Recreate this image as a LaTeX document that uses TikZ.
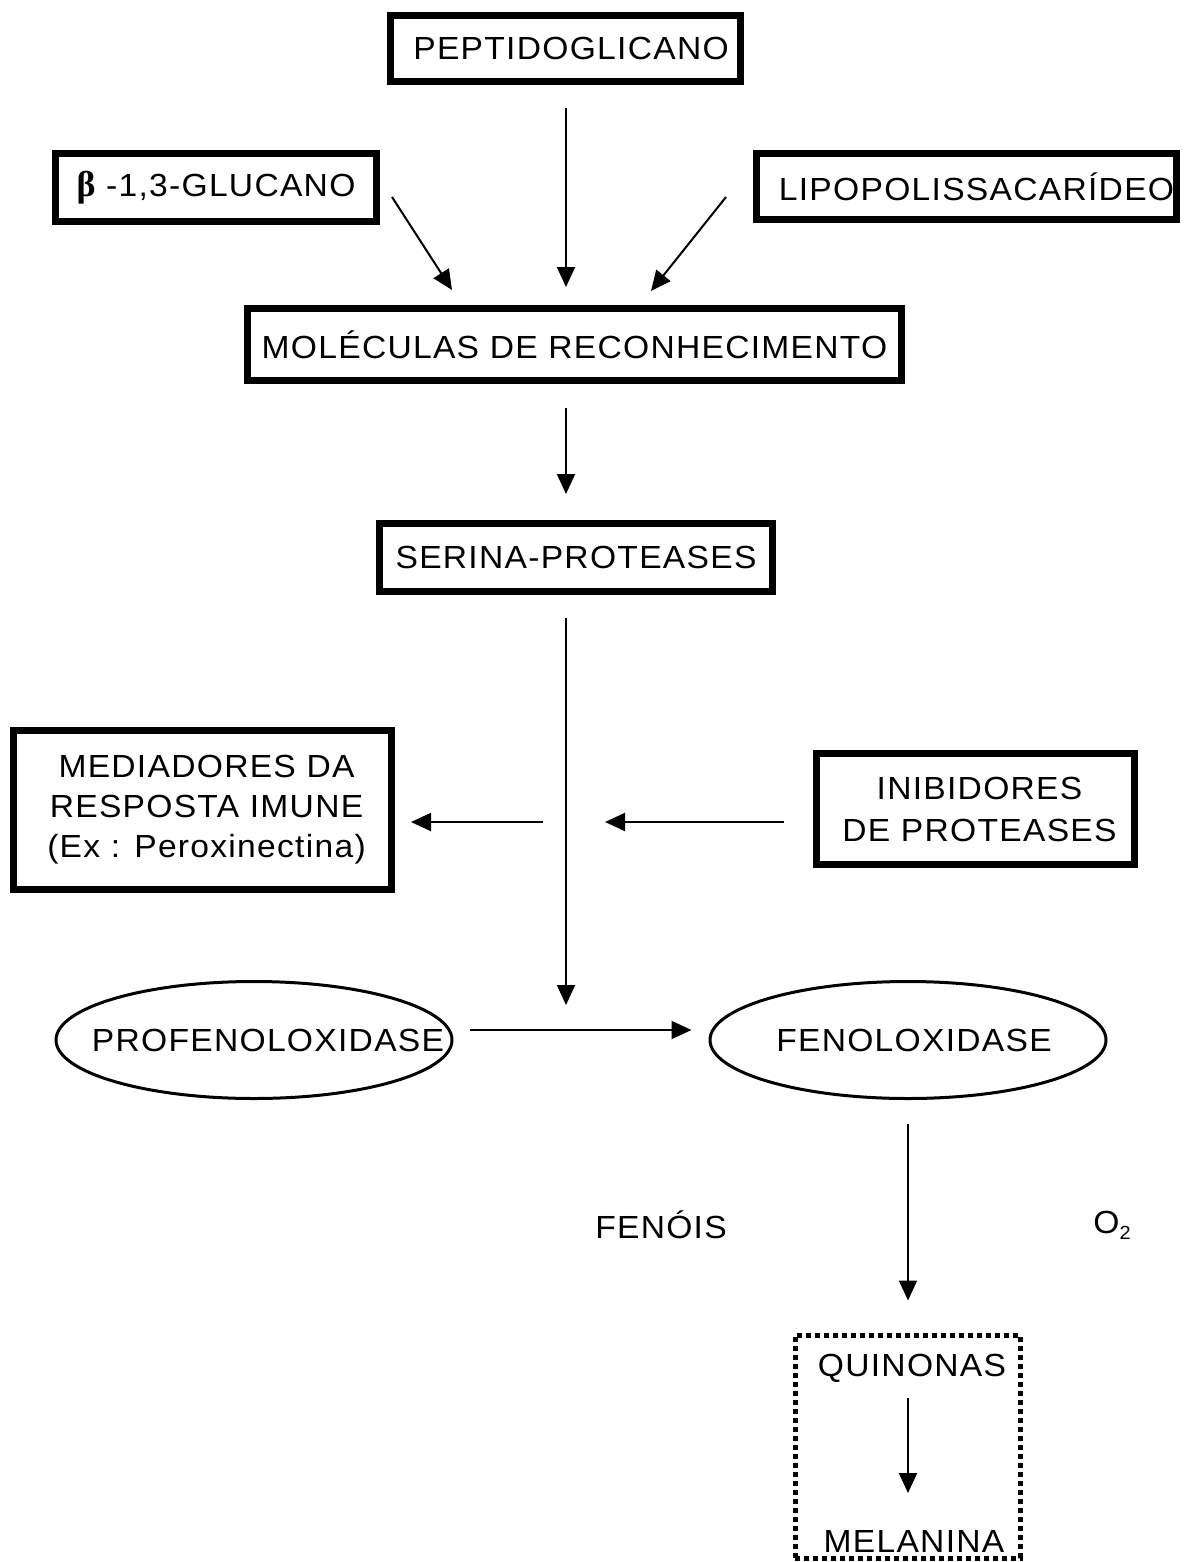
\documentclass[tikz,border=0pt]{standalone}
\usepackage{fontspec}
\setmainfont{Liberation Sans}
\newfontfamily\betafont{Liberation Serif}
\usetikzlibrary{arrows.meta,shapes.geometric}
\begin{document}
\begin{tikzpicture}[x=1pt,y=-1pt,
  txt/.style={font=\fontsize{32}{40}\selectfont\addfontfeatures{LetterSpace=4,FakeStretch=1.05}, inner sep=0pt},
  bx/.style={draw, line width=7pt, inner sep=0pt, align=center, txt},
  el/.style={draw, ellipse, line width=3pt, inner sep=0pt, minimum width=396pt, minimum height=117pt},
  arr/.style={line width=2pt, -{Triangle[length=20pt,width=18pt]}}]
\useasboundingbox (0,0) rectangle (1185,1562);
\coordinate (axis) at (566,0);
\coordinate (j) at (566,822);
% boxes
\node[bx, minimum width=350pt, minimum height=66pt] (pep) at (565,48.5) {\hspace*{12pt}PEPTIDOGLICANO};
\node[bx, minimum width=321pt, minimum height=68pt] (glu) at (216,187.5) {{\betafont\bfseries\fontsize{36}{36}\selectfont β} -1,3-GLUCANO};
\node[bx, minimum width=420pt, minimum height=66pt] (lip) at (966.5,186.5) {\hspace*{20pt}LIPOPOLISSACARÍDEO};
\node[bx, minimum width=654pt, minimum height=72pt] (mol) at (574.5,344.5) {MOLÉCULAS DE RECONHECIMENTO};
\node[bx, minimum width=393pt, minimum height=68pt] (ser) at (576,557.5) {SERINA-PROTEASES};
\node[bx, minimum width=378pt, minimum height=159pt] (med) at (202.5,810) {\hspace*{8pt}MEDIADORES DA\\\hspace*{8pt}RESPOSTA IMUNE\\\hspace*{8pt}(Ex : Peroxinectina)};
\node[bx, minimum width=318pt, minimum height=111pt] (inh) at (975.5,809) {\hspace*{8pt}INIBIDORES\\[2pt]\hspace*{8pt}DE PROTEASES};
% ellipses
\node[el] (pro) at (254,1040) {};
\node[txt] (protxt) at (268,1040) {PROFENOLOXIDASE};
\node[el] (fen) at (908,1040) {};
\node[txt] (fentxt) at (914,1040) {FENOLOXIDASE};
% side labels
\node[txt] (fenois) at (661,1225) {FENÓIS};
\node[txt] (o2) at (1112,1225) {O\raisebox{-6pt}{\fontsize{19}{19}\selectfont 2}};
% quinonas / melanina
\node[txt] (qui) at (912,1368) {QUINONAS};
\node[txt] (mel) at (914,1541) {MELANINA};
\node[draw, line width=5pt, dash pattern=on 5pt off 4pt, inner sep=0pt, minimum width=225pt, minimum height=223pt] (qbox) at (907.5,1446.5) {};
% inputs to recognition molecules
\coordinate (g1) at (392,197);
\coordinate (g2) at (452,290);
\coordinate (l1) at (726,197);
\coordinate (l2) at (651,291);
\draw[arr] (g1) -- (g2);
\draw[arr] (l1) -- (l2);
\draw[arr, shorten <=23pt, shorten >=18pt] (pep.south -| axis) -- (mol.north -| axis);
\draw[arr, shorten <=24pt, shorten >=26pt] (mol.south -| axis) -- (ser.north -| axis);
\draw[arr, shorten <=23pt, shorten >=35pt] (ser.south -| axis) -- (axis |- pro.center);
\draw[arr, shorten <=23pt, shorten >=16pt] (j) -- (j -| med.east);
\draw[arr, shorten <=29pt, shorten >=39pt] (j -| inh.west) -- (j);
\draw[arr, shorten <=16pt, shorten >=17pt] ([yshift=10pt]pro.east) -- ([yshift=10pt]pro.east -| fen.west);
\draw[arr, shorten <=24pt, shorten >=32pt] (fen.south) -- (fen.south |- qbox.north);
\draw[arr, shorten <=30pt, shorten >=48pt] (qui.center -| fen.south) -- (mel.center -| fen.south);
\end{tikzpicture}
\end{document}
